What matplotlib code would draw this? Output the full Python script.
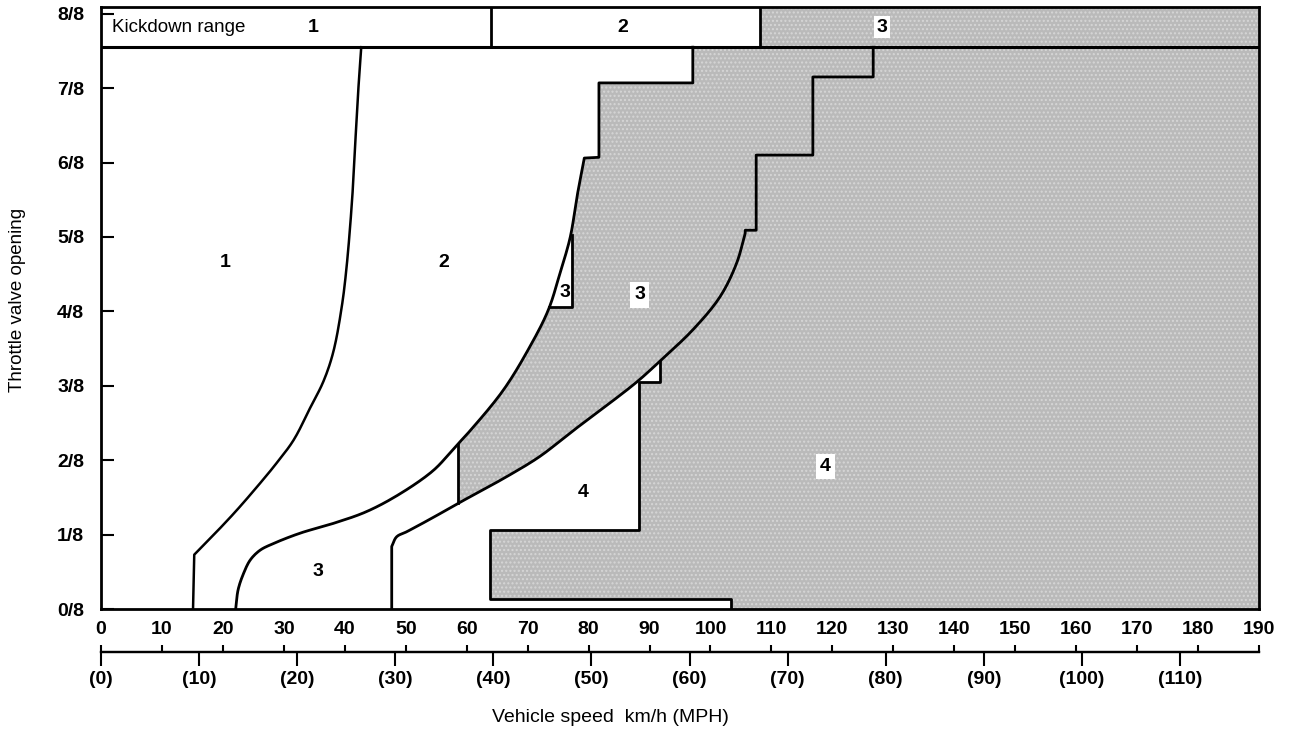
import numpy as np
import matplotlib.pyplot as plt

plt.rcParams['font.family'] = ['Liberation Sans', 'DejaVu Sans']
plt.rcParams['hatch.linewidth'] = 1.0

# shift lines: vehicle speed (km/h) vs throttle opening (eighths)
up12_kmh = [15.1, 15.3, 19.0, 22.3, 26.1, 28.8, 31.6, 34.3, 36.5, 38.1, 39.5, 40.3, 41.2, 41.55, 41.84, 42.25, 42.7]
up12_thr = [0.0, 0.73, 1.04, 1.33, 1.69, 1.96, 2.27, 2.70, 3.06, 3.45, 4.06, 4.60, 5.50, 6.01, 6.44, 7.02, 7.55]

up23_kmh = [22.1, 22.5, 23.4, 24.5, 26.1, 28.3, 32.7, 38.1, 43.6, 49.1, 54.5, 57.3, 58.6, 60.5, 66.0, 70.4, 73.4, 75.3, 77.0, 78.1, 79.3]
up23_thr = [0.0, 0.26, 0.48, 0.66, 0.79, 0.88, 1.02, 1.15, 1.31, 1.55, 1.86, 2.10, 2.22, 2.39, 2.94, 3.53, 4.02, 4.51, 5.0, 5.54, 6.06]
step23_kmh = [79.3, 81.7, 81.7, 97.1, 97.1]
step23_thr = [6.07, 6.07, 7.07, 7.07, 7.55]

up34_kmh = [47.7, 47.7, 48.5, 50.2, 54.5, 57.3, 58.6, 66.6, 72.0, 77.2, 82.4, 87.9, 91.7, 97.2, 101.6, 104.3, 105.7]
up34_thr = [0.0, 0.84, 0.97, 1.04, 1.23, 1.36, 1.42, 1.78, 2.05, 2.38, 2.70, 3.05, 3.33, 3.76, 4.20, 4.65, 5.05]
step34_kmh = [105.7, 107.5, 107.5, 116.8, 116.8, 126.7, 126.7]
step34_thr = [5.09, 5.09, 6.10, 6.10, 7.15, 7.15, 7.55]

# small 3rd gear pocket left of the 2-3 line
pocket3_kmh = [77.2, 77.2, 73.55]
pocket3_thr = [5.02, 4.06, 4.06]

# 4th gear low-throttle border
pocket4_kmh = [91.7, 91.7, 88.2, 88.2, 63.8, 63.8, 103.4, 103.4]
pocket4_thr = [3.33, 3.05, 3.05, 1.06, 1.06, 0.14, 0.14, 0.0]

link_kmh = 58.6  # vertical link between 2-3 and 3-4 lines

kickdown_edges = [0, 64, 108.2, 190]
kickdown_names = ['1', '2', '3']
kickdown_name_kmh = [34.8, 85.6, 128.1]
kickdown_thr = (7.55, 8.09)

# region labels: text, km/h, throttle, white box
region_labels = [('1', 20.3, 4.66, False), ('2', 56.3, 4.66, False), ('3', 76.1, 4.25, False),
                 ('3', 88.4, 4.22, True), ('3', 35.6, 0.50, False), ('4', 79.1, 1.57, False),
                 ('4', 118.9, 1.91, True)]

eighths = list(range(9))
kmh_ticks = list(range(0, 191, 10))
mph_ticks = list(range(0, 111, 10))

shade = '#bababa'
lw = 2.0


def smooth(xs, ys, n=12):
    # centripetal catmull-rom through the read points, in pixel-ish units
    p = np.column_stack([np.asarray(xs) * 6.1, np.asarray(ys) * 74.4])
    p = np.vstack([2 * p[0] - p[1], p, 2 * p[-1] - p[-2]])
    out = [p[1]]
    for i in range(1, len(p) - 2):
        p0, p1, p2, p3 = p[i - 1], p[i], p[i + 1], p[i + 2]
        t0 = 0.0
        t1 = t0 + np.linalg.norm(p1 - p0) ** 0.5 + 1e-9
        t2 = t1 + np.linalg.norm(p2 - p1) ** 0.5 + 1e-9
        t3 = t2 + np.linalg.norm(p3 - p2) ** 0.5 + 1e-9
        for t in np.linspace(t1, t2, n)[1:]:
            a1 = (t1 - t) / (t1 - t0) * p0 + (t - t0) / (t1 - t0) * p1
            a2 = (t2 - t) / (t2 - t1) * p1 + (t - t1) / (t2 - t1) * p2
            a3 = (t3 - t) / (t3 - t2) * p2 + (t - t2) / (t3 - t2) * p3
            b1 = (t2 - t) / (t2 - t0) * a1 + (t - t0) / (t2 - t0) * a2
            b2 = (t3 - t) / (t3 - t1) * a2 + (t - t1) / (t3 - t1) * a3
            out.append((t2 - t) / (t2 - t1) * b1 + (t - t1) / (t2 - t1) * b2)
    out = np.array(out)
    return out[:, 0] / 6.1, out[:, 1] / 74.4


# smoothed shift lines (vertical starts kept sharp)
ax_, ay_ = smooth(up12_kmh[1:], up12_thr[1:])
a_x = np.concatenate([[up12_kmh[0]], ax_])
a_y = np.concatenate([[up12_thr[0]], ay_])
b_x, b_y = smooth(up23_kmh, up23_thr)
cx_, cy_ = smooth(up34_kmh[1:], up34_thr[1:])
c_x = np.concatenate([[up34_kmh[0]], cx_])
c_y = np.concatenate([[up34_thr[0]], cy_])


def along(kx, ky, v0, v1, n=60):
    v = np.linspace(v0, v1, n)
    order = np.argsort(kx)
    return list(v), list(np.interp(v, np.asarray(kx)[order], np.asarray(ky)[order]))


fig = plt.figure(figsize=(12.92, 7.32), dpi=100)
ax = fig.add_axes([101 / 1292, 1 - 609 / 732, 1158 / 1292, 602 / 732])
ax.set_xlim(0, 190)
ax.set_ylim(0, kickdown_thr[1])

# shaded area
cx, cy = along(c_x[20:], c_y[20:], pocket4_kmh[0], link_kmh)
bx1, by1 = along(b_x[40:], b_y[40:], link_kmh, pocket3_kmh[2])
bx2, by2 = along(b_x[40:], b_y[40:], pocket3_kmh[0], step23_kmh[0])
px = [step23_kmh[-1], 190, 190] + pocket4_kmh[::-1][:-1] + cx + bx1 + [pocket3_kmh[0]] + bx2 + step23_kmh[1:]
py = [kickdown_thr[0], kickdown_thr[0], 0] + pocket4_thr[::-1][:-1] + cy + by1 + [pocket3_thr[1]] + by2 + step23_thr[1:]
ax.fill(px, py, facecolor=shade, edgecolor='#d6d6d6', hatch='....', lw=0, zorder=1)
ax.fill_between([kickdown_edges[2], kickdown_edges[3]], kickdown_thr[0], kickdown_thr[1],
                facecolor=shade, edgecolor='#d6d6d6', hatch='....', lw=0, zorder=1)

# lines
ax.plot(a_x, a_y, color='black', lw=1.8, zorder=3)
ax.plot(np.concatenate([b_x, step23_kmh[1:]]), np.concatenate([b_y, step23_thr[1:]]), color='black', lw=lw, zorder=3)
ax.plot(np.concatenate([c_x, step34_kmh]), np.concatenate([c_y, step34_thr]), color='black', lw=lw, zorder=3)
ax.plot(pocket3_kmh, pocket3_thr, color='black', lw=lw, zorder=3)
ax.plot(pocket4_kmh, pocket4_thr, color='black', lw=lw, zorder=3)
ax.plot([link_kmh, link_kmh], [along(c_x[20:], c_y[20:], link_kmh, link_kmh, 1)[1][0],
                               along(b_x[40:], b_y[40:], link_kmh, link_kmh, 1)[1][0]],
        color='black', lw=lw, zorder=3)

# kickdown band
ax.axhline(kickdown_thr[0], color='black', lw=2.2, zorder=3)
for e in kickdown_edges[1:-1]:
    ax.plot([e, e], kickdown_thr, color='black', lw=2, zorder=3)
kd_mid = (kickdown_thr[0] + kickdown_thr[1]) / 2
ax.text(1.8, kd_mid, 'Kickdown range', fontsize=13.5, va='center', ha='left')
for name, x, box in zip(kickdown_names, kickdown_name_kmh, [False, False, True]):
    ax.text(x, kd_mid, name, fontsize=14, fontweight='bold', ha='center', va='center',
            bbox=dict(facecolor='white', edgecolor='none', pad=2) if box else None, zorder=4)

for txt, x, y, box in region_labels:
    ax.text(x, y, txt, fontsize=14, fontweight='bold', ha='center', va='center', zorder=4,
            bbox=dict(facecolor='white', edgecolor='none', pad=3) if box else None)

for s in ax.spines.values():
    s.set_linewidth(2)
ax.set_xticks([])
ax.set_yticks(eighths, labels=[f'{i}/8' for i in eighths], fontweight='bold')
ax.tick_params(axis='y', direction='in', length=9, width=1.5, labelsize=14, pad=12)

# speed scale below the chart
sc = fig.add_axes([101 / 1292, 80 / 732, 1158 / 1292, 1e-4])
sc.set_xlim(0, 190)
sc.set_yticks([])
for k in ['left', 'right', 'top']:
    sc.spines[k].set_visible(False)
sc.spines['bottom'].set_linewidth(1.6)
sc.set_xticks(kmh_ticks, labels=[str(t) for t in kmh_ticks], fontweight='bold')
sc.tick_params(axis='x', top=True, labeltop=True, bottom=False, labelbottom=False,
               direction='out', length=5, width=1.5, labelsize=14, pad=5)
sec = sc.secondary_xaxis('bottom', functions=(lambda k: k / 1.609344, lambda m: m * 1.609344))
sec.set_xticks(mph_ticks, labels=[f'({m})' for m in mph_ticks], fontweight='bold')
sec.tick_params(direction='out', length=10, width=1.5, labelsize=14, pad=4)
sec.spines['bottom'].set_linewidth(1.6)

fig.text(18 / 1292, 1 - 300 / 732, 'Throttle valve opening', rotation=90, ha='center', va='center', fontsize=13.5)
fig.text(610 / 1292, 1 - 717 / 732, 'Vehicle speed  km/h (MPH)', ha='center', va='center', fontsize=14)

fig.savefig('out.png', dpi=100)
